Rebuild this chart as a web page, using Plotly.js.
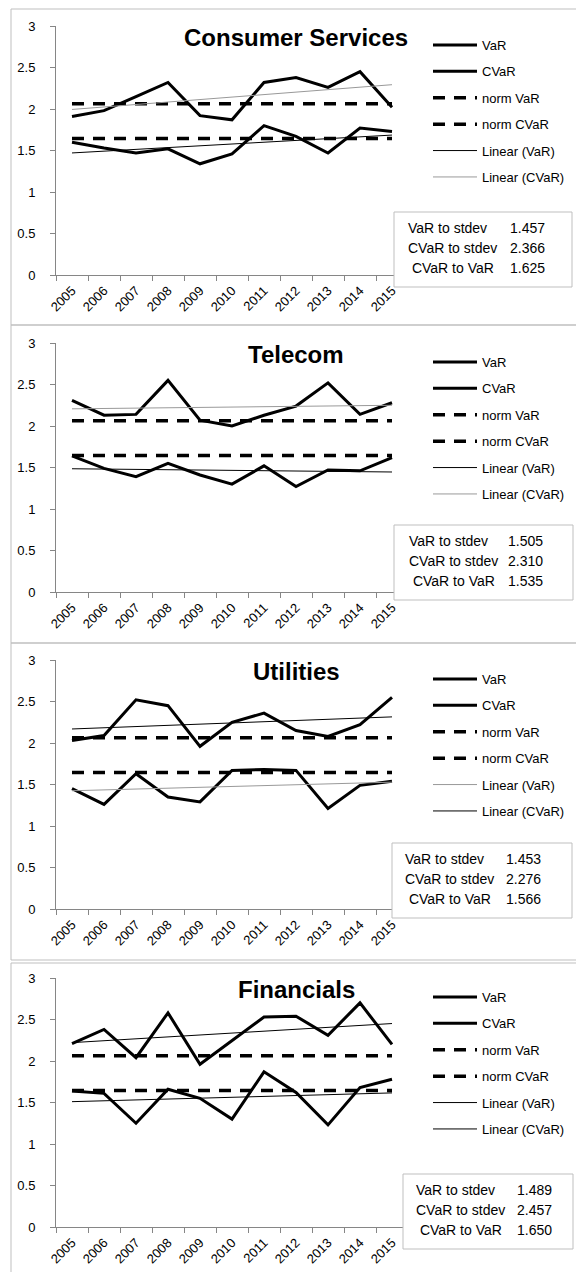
<!DOCTYPE html>
<html><head><meta charset="utf-8">
<script src="https://cdn.plot.ly/plotly-3.0.1.min.js"></script>
<style>html,body{margin:0;padding:0;background:#fff;} #chart{width:576px;height:1272px;}</style>
</head><body><div id="chart"></div>
<script>
// ---------- data ----------
const years = ['2005','2006','2007','2008','2009','2010','2011','2012','2013','2014','2015'];
const sectors = ['Consumer Services','Telecom','Utilities','Financials'];

const csVaR  = [1.60, 1.53, 1.47, 1.52, 1.34, 1.46, 1.80, 1.67, 1.47, 1.77, 1.73];
const csCVaR = [1.91, 1.98, 2.15, 2.32, 1.92, 1.87, 2.32, 2.38, 2.26, 2.45, 2.02];
const tcVaR  = [1.64, 1.49, 1.39, 1.55, 1.41, 1.30, 1.52, 1.27, 1.47, 1.46, 1.62];
const tcCVaR = [2.31, 2.13, 2.14, 2.55, 2.07, 2.00, 2.13, 2.24, 2.52, 2.14, 2.28];
const utVaR  = [1.45, 1.26, 1.63, 1.35, 1.29, 1.67, 1.68, 1.67, 1.21, 1.49, 1.54];
const utCVaR = [2.03, 2.09, 2.52, 2.45, 1.96, 2.25, 2.36, 2.15, 2.08, 2.22, 2.55];
const fnVaR  = [1.64, 1.61, 1.25, 1.66, 1.55, 1.30, 1.87, 1.62, 1.23, 1.68, 1.78];
const fnCVaR = [2.21, 2.38, 2.04, 2.58, 1.96, 2.25, 2.53, 2.54, 2.31, 2.70, 2.20];

const normVaR = 1.645;
const normCVaR = 2.063;

const seriesNames = ['VaR','CVaR','norm VaR','norm CVaR','Linear (VaR)','Linear (CVaR)'];
const ratioLabels = ['VaR to stdev','CVaR to stdev','\u00A0CVaR to VaR'];
const csRatios = ['1.457','2.366','1.625'];
const tcRatios = ['1.505','2.310','1.535'];
const utRatios = ['1.453','2.276','1.566'];
const fnRatios = ['1.489','2.457','1.650'];

// ---------- helpers ----------
const W = 576, H = 1272;
const px = x => x / W;
const py = y => 1 - y / H;
function trend(y){
  const n = y.length, xm = (n-1)/2, ym = y.reduce((a,b)=>a+b,0)/n;
  let sxy=0, sxx=0;
  y.forEach((v,i)=>{ sxy += (i-xm)*(v-ym); sxx += (i-xm)*(i-xm); });
  const b = sxy/sxx;
  return y.map((_,i)=> ym + b*(i-xm));
}

const panels = [
  {title: sectors[0], v: csVaR, c: csCVaR, r: csRatios, tv:'#000', tc:'#999999',
   top: 26, border:[9,325], box:{x0:394,x1:572,t:186}, lx:406, nx:547},
  {title: sectors[1], v: tcVaR, c: tcCVaR, r: tcRatios, tv:'#000', tc:'#999999',
   top: 343, border:[325,643], box:{x0:394,x1:573,t:182}, lx:407, nx:545},
  {title: sectors[2], v: utVaR, c: utCVaR, r: utRatios, tv:'#999999', tc:'#000',
   top: 660, border:[643,960], box:{x0:392,x1:572,t:183}, lx:403, nx:543},
  {title: sectors[3], v: fnVaR, c: fnCVaR, r: fnRatios, tv:'#000', tc:'#000',
   top: 978, border:[963,1290], box:{x0:403,x1:573,t:196}, lx:414, nx:554},
];

const FONT = 'Liberation Sans, Arial, sans-serif';
const traces = [], shapes = [], annotations = [];
const layout = {
  width: W, height: H, margin:{l:0,r:0,t:0,b:0},
  paper_bgcolor:'#fff', plot_bgcolor:'rgba(0,0,0,0)',
  font:{family:FONT, color:'#000'},
  showlegend: true,
};

panels.forEach((p,k)=>{
  const n = k+1;
  const xa = 'x'+(n===1?'':n), ya = 'y'+(n===1?'':n);
  const xk = 'xaxis'+(n===1?'':n), yk = 'yaxis'+(n===1?'':n);
  const lg = 'legend'+(n===1?'':n);
  const axH = 249;
  layout[xk] = {
    type:'category', categoryarray: years, range:[-0.5, 10.5],
    domain:[px(56), px(408)], anchor: ya,
    showline:true, linecolor:'#868686', linewidth:1,
    ticks:'outside', tickson:'boundaries', ticklen:5, tickcolor:'#868686',
    tickangle:-45, ticklabelstandoff: 2,
    tickfont:{family:FONT, size:13, color:'#000'},
    showgrid:false, zeroline:false, fixedrange:true
  };
  layout[yk] = {
    range:[0,3], dtick:0.5, tick0:0,
    domain:[py(p.top+axH), py(p.top)], anchor: xa,
    showline:true, linecolor:'#868686', linewidth:1,
    ticks:'outside', ticklen:5, tickcolor:'#868686',
    ticklabelstandoff: 12,
    tickfont:{family:FONT, size:13, color:'#000'},
    showgrid:false, zeroline:false, fixedrange:true
  };
  layout[lg] = {
    x: px(428), y: py(p.top + 4), xanchor:'left', yanchor:'top',
    bgcolor:'rgba(0,0,0,0)', borderwidth:0,
    font:{family:FONT, size:13, color:'#000'},
    itemwidth: 44, traceorder:'grouped', tracegroupgap: 6.5
  };
  const nv = years.map(()=>normVaR), nc = years.map(()=>normCVaR);
  const defs = [
    {y:p.v, line:{color:'#000', width:3}},
    {y:p.c, line:{color:'#000', width:3}},
    {y:nv, line:{color:'#000', width:3.5, dash:'12px,9px'}},
    {y:nc, line:{color:'#000', width:3.5, dash:'12px,9px'}},
    {y:trend(p.v), line:{color:p.tv, width:1}},
    {y:trend(p.c), line:{color:p.tc, width:1}},
  ];
  defs.forEach((d,j)=>{
    traces.push({
      type:'scatter', mode:'lines', x: years, y: d.y, name: seriesNames[j],
      xaxis: xa, yaxis: ya, line: d.line, legend: lg,
      legendgroup: 'p'+n+'_'+j, hoverinfo:'skip'
    });
  });
  // panel border
  shapes.push({type:'rect', xref:'paper', yref:'paper', layer:'below',
    x0:px(11), x1:px(600), y0:py(p.border[1]), y1:py(p.border[0]),
    line:{color:'#bfbfbf', width:1}, fillcolor:'rgba(0,0,0,0)'});
  // stats box
  const bt = p.top + p.box.t;
  shapes.push({type:'rect', xref:'paper', yref:'paper', layer:'above',
    x0:px(p.box.x0), x1:px(p.box.x1), y0:py(bt+75), y1:py(bt),
    line:{color:'#bfbfbf', width:1}, fillcolor:'#fff'});
  ratioLabels.forEach((lab,r)=>{
    const yy = bt + 16 + 20*r;
    annotations.push({xref:'paper', yref:'paper', x:px(p.lx), y:py(yy),
      xanchor:'left', yanchor:'middle', text: lab, showarrow:false,
      font:{family:FONT, size:14, color:'#000'}});
    annotations.push({xref:'paper', yref:'paper', x:px(p.nx), y:py(yy),
      xanchor:'right', yanchor:'middle', text: p.r[r], showarrow:false,
      font:{family:FONT, size:14, color:'#000'}});
  });
  // title
  annotations.push({xref:'paper', yref:'paper', x:px(296), y:py(p.top+11.5),
    xanchor:'center', yanchor:'middle', text:p.title, showarrow:false,
    font:{family:FONT, size:24, color:'#000', weight:'bold'}});
});

layout.shapes = shapes;
layout.annotations = annotations;
Plotly.newPlot('chart', traces, layout, {staticPlot:true, displayModeBar:false});
</script>
</body></html>
